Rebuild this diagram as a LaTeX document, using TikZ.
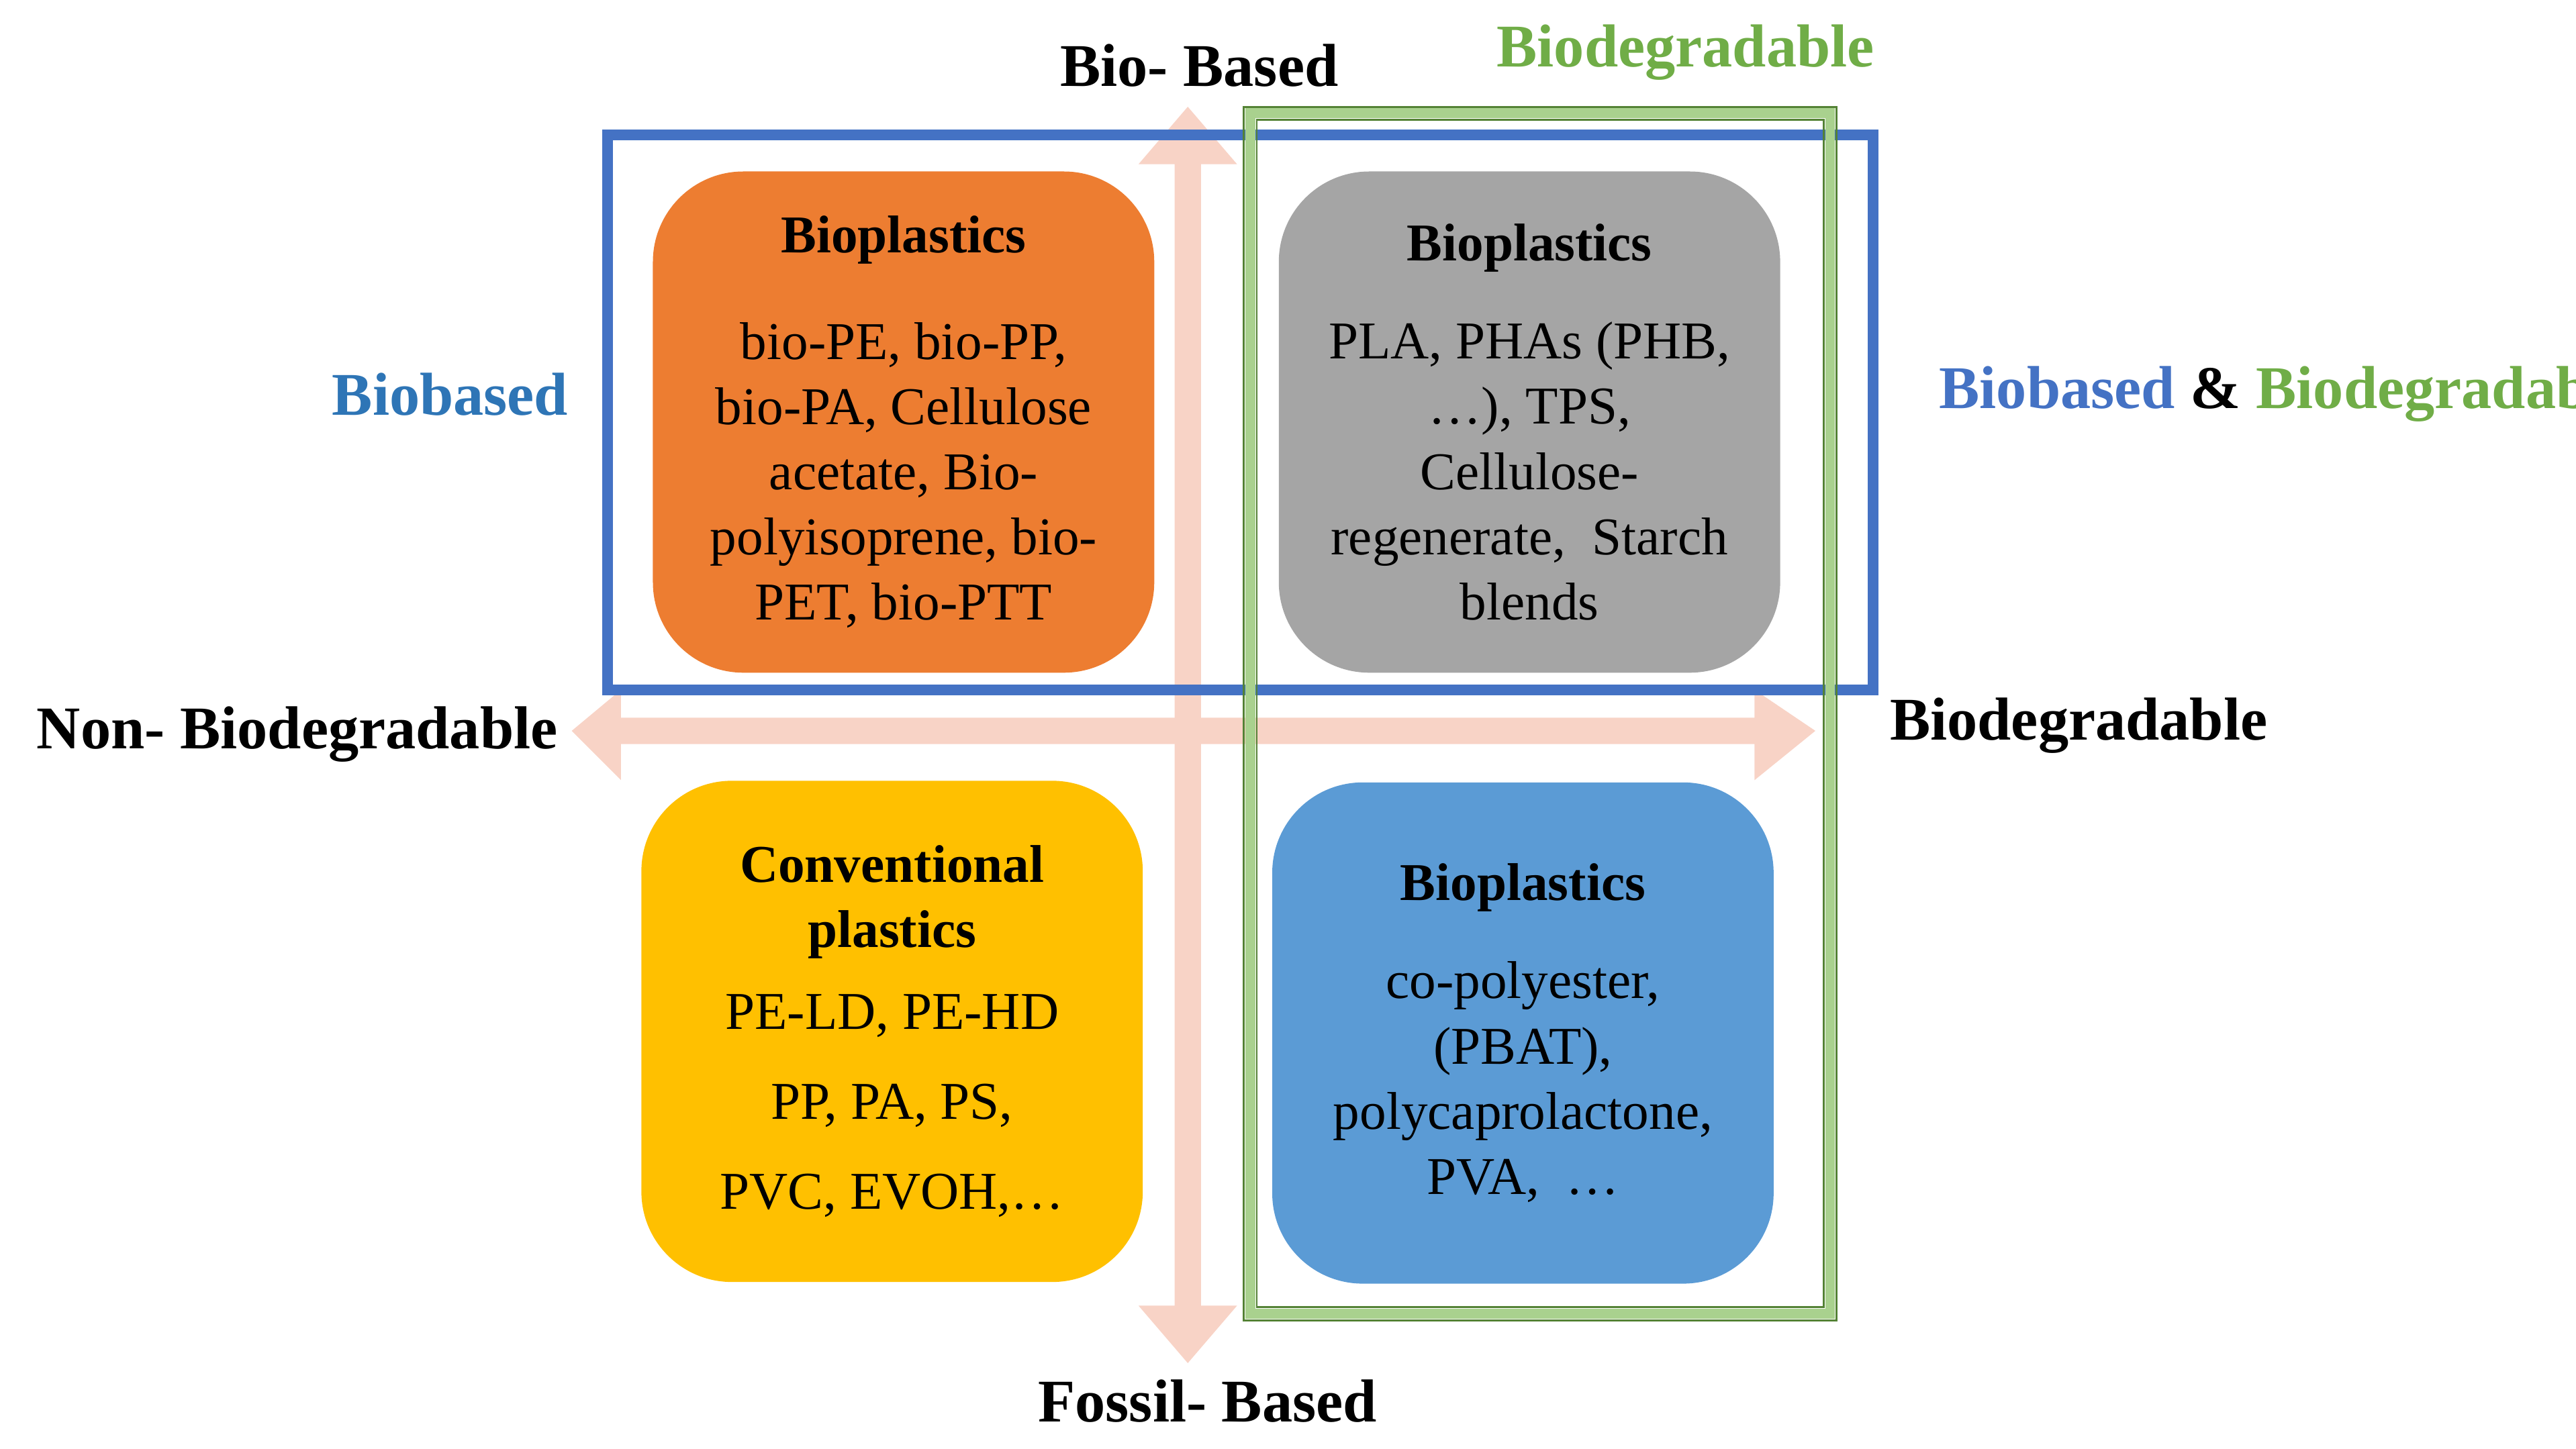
\documentclass[tikz,border=0pt]{standalone}
\usepackage{fontspec}
\setmainfont{Liberation Serif}
\begin{document}
\begin{tikzpicture}[x=0.01cm,y=-0.01cm,
 box/.style={rounded corners=0.55cm,minimum width=3.05cm,minimum height=3.05cm,align=center,font=\fontsize{9.2}{11.3}\selectfont,text=black},
 lab/.style={font=\bfseries\fontsize{10.5}{12}\selectfont},
 arr/.style={fill=pinkarr,draw=none}]
\definecolor{pinkarr}{HTML}{F8D3C6}
\definecolor{bblue}{HTML}{4472C4}
\definecolor{gfill}{HTML}{A9D18E}
\definecolor{gdark}{HTML}{548235}
\definecolor{tblue}{HTML}{2E75B6}
\definecolor{tgreen}{HTML}{70AD47}
\definecolor{c1}{HTML}{ED7D31}\definecolor{c2}{HTML}{A5A5A5}\definecolor{c3}{HTML}{FFC000}\definecolor{c4}{HTML}{5B9BD5}
\useasboundingbox (0,0) rectangle (1568,882);
% arrows
\fill[arr] (715,100) -- (693,100) -- (723,65) -- (753,100) -- (731,100) -- (731,795) -- (753,795) -- (723,830) -- (693,795) -- (715,795) -- cycle;
\fill[arr] (1068,437) -- (1068,420) -- (1105,445) -- (1068,475) -- (1068,453) -- (378,453) -- (378,475) -- (348,445) -- (378,420) -- (378,437) -- cycle;
% boxes
\node[box,fill=c1] (o) at (550,257) {\textbf{Bioplastics}\\[0.25cm]bio-PE, bio-PP,\\bio-PA, Cellulose\\acetate, Bio-\\polyisoprene, bio-\\PET, bio-PTT};
\node[box,fill=c2] (g) at (931,257) {\textbf{Bioplastics}\\[0.2cm]PLA, PHAs (PHB,\\\ldots), TPS,\\Cellulose-\\regenerate,\ \ Starch\\blends};
\node[box,fill=c3] (y) at (543,628) {\textbf{Conventional}\\\textbf{plastics}\\[0.1cm]PE-LD, PE-HD\\[0.15cm]PP, PA, PS,\\[0.15cm]PVC, EVOH,\ldots};
\node[box,fill=c4] (b) at (927,629) {\textbf{Bioplastics}\\[0.2cm]co-polyester,\\(PBAT),\\polycaprolactone,\\PVA,\ \ \ldots};
% frames
\draw[bblue,line width=0.065cm] (370,82) rectangle (1140,420);
\draw[gfill,line width=0.06cm] (761,69) rectangle (1114,800);
\draw[gdark,line width=0.012cm] (757,65) rectangle (1118,804);
\draw[gdark,line width=0.012cm] (765,73) rectangle (1110,796);
% labels
\node[lab] (bb) at (730,40) {Bio- Based};
\node[lab] (fb) at (735,853) {Fossil- Based};
\node[lab,anchor=west] (nb) at (10,447) {Non- Biodegradable};
\node[lab,anchor=west] (bd) at (1138,442) {Biodegradable};
\node[lab,text=tgreen] (bg) at (1026,32) {Biodegradable};
\node[lab,text=tblue] (bl) at (274,240) {Biobased};
\node[lab,anchor=west] (bbb) at (1168,240) {\textcolor{bblue}{Biobased} \& \textcolor{tgreen}{Biodegradable}};
\end{tikzpicture}
\end{document}
